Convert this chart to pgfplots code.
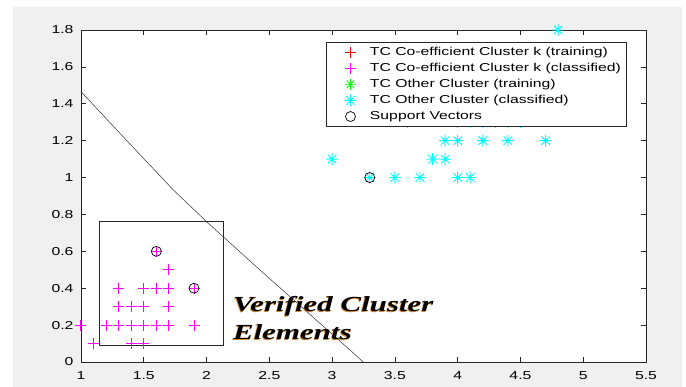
\documentclass[border=0pt]{standalone}
\usepackage{pgfplots}
\pgfplotsset{compat=1.18}
\usepackage{fontspec}
\setmainfont{Liberation Sans}
\newfontfamily\mfont[FakeStretch=1.37]{Liberation Sans}
\newfontfamily\tfont[FakeStretch=1.44]{Liberation Serif}
\definecolor{figgray}{HTML}{F0F0F0}
\definecolor{axgray}{HTML}{262626}
\definecolor{shadowc}{HTML}{D08A30}
\definecolor{mred}{RGB}{255,0,0}
\definecolor{mmag}{RGB}{255,0,255}
\definecolor{mgreen}{RGB}{0,255,0}
\definecolor{mcyan}{RGB}{0,255,255}
\pgfdeclareplotmark{mstar}{%
  \pgfpathmoveto{\pgfpoint{-\pgfplotmarksize}{0pt}}\pgfpathlineto{\pgfpoint{\pgfplotmarksize}{0pt}}%
  \pgfpathmoveto{\pgfpoint{0pt}{-\pgfplotmarksize}}\pgfpathlineto{\pgfpoint{0pt}{\pgfplotmarksize}}%
  \pgfpathmoveto{\pgfpoint{-0.707\pgfplotmarksize}{-0.707\pgfplotmarksize}}\pgfpathlineto{\pgfpoint{0.707\pgfplotmarksize}{0.707\pgfplotmarksize}}%
  \pgfpathmoveto{\pgfpoint{-0.707\pgfplotmarksize}{0.707\pgfplotmarksize}}\pgfpathlineto{\pgfpoint{0.707\pgfplotmarksize}{-0.707\pgfplotmarksize}}%
  \pgfusepathqstroke}
\pgfdeclareplotmark{mplus}{%
  \pgfpathmoveto{\pgfpoint{-\pgfplotmarksize}{0pt}}\pgfpathlineto{\pgfpoint{\pgfplotmarksize}{0pt}}%
  \pgfpathmoveto{\pgfpoint{0pt}{-\pgfplotmarksize}}\pgfpathlineto{\pgfpoint{0pt}{\pgfplotmarksize}}%
  \pgfusepathqstroke}
\begin{document}
\begin{tikzpicture}
\path[use as bounding box] (-81pt,-25pt) rectangle (605pt,362pt);
\fill[figgray] (-68pt,-25pt) rectangle (601pt,355pt);
\begin{axis}[
  at={(0pt,0pt)}, anchor=south west,
  scale only axis, width=565pt, height=332pt,
  xmin=1, xmax=5.5, ymin=0, ymax=1.8,
  xtick={1,1.5,2,2.5,3,3.5,4,4.5,5,5.5},
  ytick={0,0.2,0.4,0.6,0.8,1,1.2,1.4,1.6,1.8},
  yticklabels={0,0.2,0.4,0.6,0.8,1,1.2,1.4,1.6,1.8},
  xticklabels={1,1.5,2,2.5,3,3.5,4,4.5,5,5.5},
  axis line style={axgray, line width=0.6pt},
  tick style={axgray, line width=0.6pt},
  tick align=inside, major tick length=5pt,
  ticklabel style={font=\mfont\fontsize{11.5}{13}\selectfont},
  xticklabel style={yshift=-6pt},
  yticklabel style={xshift=-4pt},
  axis background/.style={fill=white},
  clip=false,
  legend cell align=left,
  legend image code/.code={\draw[#1] plot coordinates {(0pt,0pt)}; \path (-20pt,0pt) (6pt,0pt);},
  legend style={at={(rel axis cs:0.4336,0.963)}, anchor=north west, draw=axgray, line width=0.6pt,
    fill=white, font=\mfont\fontsize{11.5}{13}\selectfont,
    inner xsep=3.7pt, inner ysep=1.5pt, row sep=0pt, column sep=11pt,
    nodes={inner sep=2pt, text height=9.1pt, text depth=3pt}},
]
\addplot[black!80, line width=0.5pt, forget plot, mark=none] coordinates {
  (1,1.466) (1.31,1.24) (1.735,0.933) (2.0,0.761) (2.425,0.499) (3.142,0.065) (3.248,0)};
\addplot[axgray, line width=0.7pt, forget plot, mark=none] coordinates {
  (1.146,0.088) (2.133,0.088) (2.133,0.761) (1.146,0.761) (1.146,0.088)};
\node[anchor=base west, inner sep=0, text=shadowc, font=\tfont\bfseries\itshape\fontsize{21.5}{24}\selectfont, xshift=-0.8pt, yshift=-0.8pt] at (axis cs:2.21,0.273) {Verified Cluster};
\node[anchor=base west, inner sep=0, text=shadowc, font=\tfont\bfseries\itshape\fontsize{21.5}{24}\selectfont, xshift=-0.8pt, yshift=-0.8pt] at (axis cs:2.21,0.123) {Elements};
\node[anchor=base west, inner sep=0, text=black, font=\tfont\bfseries\itshape\fontsize{21.5}{24}\selectfont] at (axis cs:2.21,0.273) {Verified Cluster};
\node[anchor=base west, inner sep=0, text=black, font=\tfont\bfseries\itshape\fontsize{21.5}{24}\selectfont] at (axis cs:2.21,0.123) {Elements};

\addlegendimage{only marks, mark=mplus, color=mred, mark size=5.5pt, line width=0.8pt}
\addlegendentry{TC Co-efficient Cluster k (training)}
\addplot[only marks, mark=mplus, color=mmag, mark size=5.5pt, line width=1pt] coordinates {
  (1.0,0.2) (1.2,0.2) (1.3,0.2) (1.4,0.2) (1.5,0.2) (1.6,0.2) (1.7,0.2) (1.9,0.2)
  (1.1,0.1) (1.4,0.1) (1.5,0.1)
  (1.3,0.3) (1.4,0.3) (1.5,0.3) (1.7,0.3)
  (1.3,0.4) (1.5,0.4) (1.6,0.4) (1.7,0.4) (1.9,0.4)
  (1.7,0.5) (1.6,0.6)};
\addlegendentry{TC Co-efficient Cluster k (classified)}
\addlegendimage{only marks, mark=mstar, color=mgreen, mark size=5.5pt, line width=0.8pt}
\addlegendentry{TC Other Cluster (training)}
\addplot[only marks, mark=mstar, color=mcyan, mark size=6pt, line width=0.9pt] coordinates {
  (3.6,1.3) (4.0,1.3) (4.1,1.3) (4.2,1.3) (4.3,1.3) (4.4,1.3) (4.5,1.3)
  (3.0,1.1) (3.8,1.1) (3.9,1.1)
  (3.3,1.0) (3.5,1.0) (3.7,1.0) (4.0,1.0) (4.1,1.0)
  (3.9,1.2) (4.0,1.2) (4.2,1.2) (4.4,1.2) (4.7,1.2)
  (4.8,1.8)};
\addlegendentry{TC Other Cluster (classified)}
\addplot[only marks, mark=o, color=black, mark size=5pt, line width=0.7pt] coordinates {
  (1.6,0.6) (1.9,0.4) (3.3,1.0)};
\addlegendentry{Support Vectors}
\end{axis}
\end{tikzpicture}
\end{document}
